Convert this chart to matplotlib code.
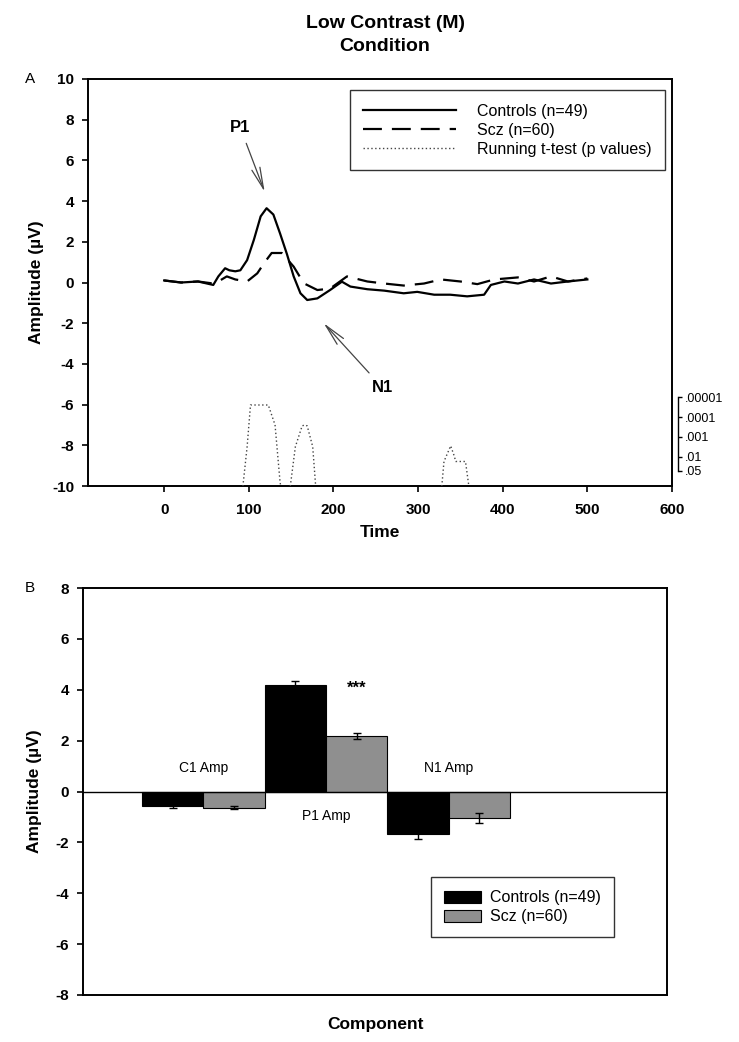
import numpy as np
import matplotlib
matplotlib.use("Agg")
import matplotlib.pyplot as plt
from matplotlib.lines import Line2D

plt.rcParams['font.family'] = ['Liberation Sans', 'DejaVu Sans']
plt.rcParams['axes.unicode_minus'] = False

# panel A: grand-average waveforms (time in ms, amplitude in uV)
ctrl_t = [0, 20, 40, 58, 64, 72, 77, 84, 90, 98, 106, 114, 121, 129, 137, 145, 153, 161, 169,
          181, 196, 210, 220, 240, 260, 283, 299, 319, 338, 358, 378, 386, 402, 418, 437, 457, 477, 500]
ctrl_v = [0.1, 0.0, 0.05, -0.12, 0.3, 0.7, 0.6, 0.55, 0.6, 1.1, 2.1, 3.25, 3.65, 3.34, 2.4, 1.4, 0.3, -0.53, -0.86,
          -0.78, -0.37, 0.04, -0.2, -0.33, -0.4, -0.53, -0.46, -0.6, -0.6, -0.68, -0.6, -0.12, 0.05, -0.05, 0.15, -0.05, 0.05, 0.15]

scz_t = [0, 20, 40, 58, 66, 74, 84, 98, 110, 118, 127, 139, 153, 165, 181, 196, 216,
         240, 260, 283, 307, 327, 350, 370, 390, 418, 437, 457, 477, 500]
scz_v = [0.1, 0.0, 0.05, -0.05, 0.1, 0.3, 0.15, 0.05, 0.45, 0.95, 1.45, 1.45, 0.78, -0.04, -0.37, -0.3, 0.3,
         0.05, -0.05, -0.15, -0.05, 0.15, 0.05, -0.08, 0.15, 0.25, 0.05, 0.3, 0.05, 0.2]

# running t-test p values (NaN = gap)
tt_t = [93, 98, 102, 123, 131, 137, 138, np.nan, 149, 155, 163, 166, 169, 175.5, 179, np.nan,
        328, 330.6, 338.5, 342.5, 344.5, 356, 360]
tt_p = [0.3, 3.1e-3, 2.5e-5, 2.5e-5, 2.5e-4, 0.2, 0.3, np.nan, 0.3, 3.1e-3, 2.8e-4, 2.5e-4, 2.8e-4, 3.1e-3, 0.3, np.nan,
        0.3, 0.017, 0.0028, 0.0085, 0.017, 0.017, 0.3]
p_ticks = [0.00001, 0.0001, 0.001, 0.01, 0.05]
p_labels = ['.00001', '.0001', '.001', '.01', '.05']

# panel B: component amplitudes
components = ['C1 Amp', 'P1 Amp', 'N1 Amp']
ctrl_amp = [-0.58, 4.18, -1.69]
ctrl_err = [0.07, 0.15, 0.17]
scz_amp = [-0.63, 2.18, -1.04]
scz_err = [0.06, 0.13, 0.19]

fig = plt.figure(figsize=(7.39, 10.42), dpi=100)

fig.text(0.521, 1 - 15 / 1042, 'Low Contrast (M)\nCondition', ha='center', va='top',
         fontsize=14, fontweight='bold', linespacing=1.45)

arrow = dict(arrowstyle='->, head_length=1.1, head_width=0.22', color='#444444', lw=0.9,
             mutation_scale=14, shrinkA=4, shrinkB=0)

# ---------- panel A ----------
ax = fig.add_axes([88 / 739, 1 - 486 / 1042, 584 / 739, 407 / 1042])
ax.plot(ctrl_t, ctrl_v, color='black', lw=1.6)
ax.plot(scz_t, scz_v, color='black', lw=1.6, linestyle=(0, (8.5, 4.5)))
ax.set_xlim(-90, 600)
ax.set_ylim(-10, 10)
ax.set_xticks(range(0, 601, 100))
ax.set_yticks(range(-10, 11, 2))
ax.tick_params(direction='out', length=4, width=1.2, labelsize=11)
ax.tick_params(axis='x', pad=8)
ax.tick_params(axis='y', pad=6)
for lb in ax.get_xticklabels() + ax.get_yticklabels():
    lb.set_fontweight('bold')
for s in ax.spines.values():
    s.set_linewidth(1.4)
ax.set_xlabel('Time', fontsize=12.5, fontweight='bold', labelpad=6)
ax.set_ylabel('Amplitude (\u00b5V)', fontsize=12.5, fontweight='bold', labelpad=6)

# running t-test on its own log scale
lo, hi = 0.54, 20.95
axt = ax.twinx()
axt.set_ylim(lo, hi)
axt.plot(tt_t, -np.log10(tt_p), color='#444444', lw=1.0, linestyle=(0, (1, 1.8)))
axt.axis('off')

ax.annotate('P1', xy=(118.7, 4.46), xytext=(90, 7.6), fontsize=12, fontweight='bold',
            ha='center', va='center', arrowprops=arrow)
ax.annotate('N1', xy=(188.5, -2.0), xytext=(257.6, -5.15), fontsize=12, fontweight='bold',
            ha='center', va='center', arrowprops=arrow)

handles = [Line2D([], [], color='black', lw=1.6),
           Line2D([], [], color='black', lw=1.6, linestyle=(0, (8.5, 4.5))),
           Line2D([], [], color='#444444', lw=1.0, linestyle=(0, (1, 1.8)))]
leg = ax.legend(handles, ['Controls (n=49)', 'Scz (n=60)', 'Running t-test (p values)'],
                loc='upper right', bbox_to_anchor=(0.988, 0.973), borderaxespad=0, fontsize=11.5,
                handlelength=5.8, handletextpad=1.3, labelspacing=0.25, borderpad=0.85,
                fancybox=False, framealpha=1, edgecolor='#333333')
leg.get_frame().set_linewidth(1.0)

# p-value bracket
axp = fig.add_axes([677 / 739, 1 - 486 / 1042, 0.001, 407 / 1042])
axp.set_ylim(lo, hi)
for k in ['left', 'top', 'bottom']:
    axp.spines[k].set_visible(False)
axp.spines['right'].set_bounds(-np.log10(0.05), 5)
axp.spines['right'].set_linewidth(1.0)
axp.set_xticks([])
axp.yaxis.tick_right()
axp.set_yticks(-np.log10(p_ticks))
axp.set_yticklabels(p_labels)
axp.tick_params(axis='y', direction='out', length=3, width=1.0, labelsize=9, pad=2)
axp.patch.set_visible(False)

fig.text(30 / 739, 1 - 79 / 1042, 'A', fontsize=11, ha='center', va='center')

# ---------- panel B ----------
bx = fig.add_axes([83 / 739, 1 - 995 / 1042, 584 / 739, 407 / 1042])
x = np.arange(len(components))
w = 0.5
bx.bar(x - w / 2, ctrl_amp, w, color='black', edgecolor='black', lw=0.8,
       yerr=ctrl_err, error_kw=dict(ecolor='black', capsize=2.8, elinewidth=1.0, capthick=1.0),
       label='Controls (n=49)')
bx.bar(x + w / 2, scz_amp, w, color='#8f8f8f', edgecolor='black', lw=0.8,
       yerr=scz_err, error_kw=dict(ecolor='black', capsize=2.8, elinewidth=1.0, capthick=1.0),
       label='Scz (n=60)')
bx.axhline(0, color='black', lw=1.0)
bx.set_xlim(-0.98, 3.78)
bx.set_ylim(-8, 8)
bx.set_yticks(range(-8, 9, 2))
bx.set_xticks([])
bx.tick_params(direction='out', length=4, width=1.2, labelsize=11, pad=6)
for lb in bx.get_yticklabels():
    lb.set_fontweight('bold')
for s in bx.spines.values():
    s.set_linewidth(1.4)
bx.set_xlabel('Component', fontsize=12.5, fontweight='bold', labelpad=16)
bx.set_ylabel('Amplitude (\u00b5V)', fontsize=12.5, fontweight='bold', labelpad=10)

label_y = [0.94, -0.98, 0.94]
for i, name in enumerate(components):
    bx.text(x[i], label_y[i], name, ha='center', va='center', fontsize=10)
bx.text(x[1] + w / 2, 4.05, '***', ha='center', va='center', fontsize=12, fontweight='bold')

leg2 = bx.legend(loc='lower right', bbox_to_anchor=(0.909, 0.1425), borderaxespad=0, fontsize=11.5,
                 handlelength=2.3, handleheight=0.75, handletextpad=0.6, labelspacing=0.25,
                 borderpad=0.8, fancybox=False, framealpha=1, edgecolor='#333333')
leg2.get_frame().set_linewidth(1.0)

fig.text(30 / 739, 1 - 588 / 1042, 'B', fontsize=11, ha='center', va='center')

fig.savefig('out.png', dpi=100)
